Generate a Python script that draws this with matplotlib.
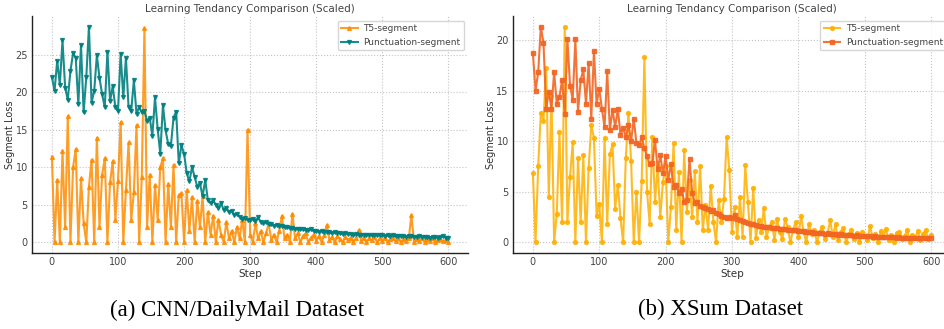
import numpy as np
import matplotlib.pyplot as plt

# steps (every 4th step is kept)
steps = np.arange(0, 601, 4)

# CNN/DailyMail
cnn_t5 = [11.4, 0.0, 8.3, 0.0, 12.2, 2.0, 16.8, 0.0, 10.0, 12.4,
          0.0, 8.5, 2.5, 0.0, 7.4, 11.0, 0.0, 13.9, 2.0, 9.0,
          11.2, 0.0, 8.0, 10.8, 3.0, 8.2, 16.0, 0.0, 7.0, 13.3,
          3.0, 6.7, 15.6, 0.0, 8.7, 28.5, 2.0, 9.0, 0.0, 7.6,
          3.0, 10.0, 11.2, 0.0, 7.8, 2.0, 10.3, 0.0, 6.3, 6.5,
          0.0, 6.9, 1.5, 6.0, 0.0, 5.5, 2.0, 6.1, 0.0, 4.0,
          1.0, 3.5, 0.0, 3.0, 1.0, 0.0, 2.7, 0.5, 1.5, 0.0,
          2.0, 0.5, 3.0, 0.0, 15.0, 1.0, 0.0, 2.5, 0.5, 1.5,
          0.0, 1.2, 2.5, 0.3, 1.0, 0.0, 1.5, 3.5, 0.5, 1.0,
          0.0, 3.8, 0.5, 1.2, 0.0, 0.8, 1.2, 0.0, 0.6, 1.0,
          0.2, 0.8, 0.0, 0.9, 2.3, 0.3, 0.7, 0.0, 0.8, 0.4,
          0.0, 0.7, 0.3, 0.6, 0.0, 0.5, 1.6, 0.2, 0.6, 0.0,
          0.5, 0.3, 0.7, 0.0, 0.5, 0.2, 0.6, 0.0, 0.4, 0.6,
          0.1, 0.5, 0.0, 0.4, 0.2, 0.5, 3.6, 0.0, 0.4, 0.2,
          0.5, 0.0, 0.4, 0.2, 0.5, 0.0, 0.3, 0.4, 0.1, 0.3,
          0.0]
cnn_punct = [22.0, 20.2, 24.2, 21.0, 26.9, 20.6, 19.0, 22.8, 25.2, 24.6,
             18.4, 26.3, 17.3, 22.0, 28.7, 18.6, 20.2, 24.9, 21.9, 19.7,
             18.0, 25.4, 18.8, 20.8, 18.0, 17.5, 25.1, 19.3, 24.6, 18.0,
             17.5, 21.6, 17.1, 18.0, 17.3, 17.5, 16.2, 16.6, 14.2, 19.3,
             15.1, 11.8, 18.3, 14.9, 13.1, 12.8, 16.6, 17.4, 10.5, 12.9,
             11.8, 9.2, 8.1, 10.0, 8.7, 7.4, 7.9, 6.1, 8.3, 5.6,
             5.2, 5.6, 5.0, 4.6, 5.2, 4.3, 4.6, 4.0, 4.2, 3.6,
             3.8, 3.4, 3.1, 3.2, 3.0, 3.0, 3.1, 2.8, 3.3, 2.7,
             2.5, 2.7, 2.4, 2.4, 2.2, 2.3, 2.1, 2.2, 2.0, 2.0,
             1.9, 1.9, 1.8, 1.8, 1.7, 1.7, 1.6, 1.6, 1.7, 1.5,
             1.5, 1.4, 1.5, 1.3, 1.4, 1.3, 1.2, 1.3, 1.2, 1.2,
             1.1, 1.2, 1.1, 1.1, 1.0, 1.1, 1.0, 1.0, 1.0, 0.9,
             1.0, 0.9, 1.0, 0.9, 0.9, 0.9, 0.8, 0.9, 0.8, 0.9,
             0.8, 0.8, 0.8, 0.8, 0.7, 0.8, 0.8, 0.7, 0.7, 0.8,
             0.7, 0.7, 0.7, 0.6, 0.7, 0.7, 0.6, 0.7, 0.8, 0.6,
             0.6]

# XSum
xsum_t5 = [6.8, 0.0, 7.5, 12.8, 12.0, 17.2, 4.5, 14.5, 0.0, 2.8,
           10.9, 2.0, 21.3, 2.0, 6.5, 9.9, 0.0, 8.3, 2.0, 8.6,
           0.0, 7.3, 11.6, 10.3, 2.6, 3.8, 0.0, 10.3, 1.8, 8.7,
           9.7, 3.3, 5.7, 2.4, 0.0, 8.3, 12.8, 8.0, 0.0, 5.0,
           0.0, 6.1, 18.3, 5.0, 1.8, 10.4, 4.0, 7.5, 2.5, 6.0,
           7.5, 0.0, 3.5, 9.8, 1.2, 6.9, 0.0, 9.1, 3.0, 6.2,
           2.5, 7.0, 2.0, 7.5, 1.2, 3.7, 1.2, 5.6, 2.0, 0.0,
           4.2, 2.0, 4.3, 10.4, 7.1, 1.0, 3.5, 0.5, 4.5, 0.5,
           7.6, 4.0, 0.0, 5.4, 0.4, 2.2, 1.0, 3.4, 0.5, 1.5,
           2.0, 0.2, 2.3, 1.0, 0.3, 2.3, 1.5, 0.0, 1.2, 2.0,
           0.5, 2.6, 1.0, 0.0, 1.8, 0.8, 1.2, 0.0, 1.0, 1.5,
           0.3, 0.8, 2.2, 0.5, 1.8, 0.2, 1.0, 1.4, 0.0, 0.8,
           1.2, 0.3, 0.9, 0.0, 1.0, 0.6, 0.2, 1.6, 0.4, 0.8,
           0.0, 1.1, 0.5, 1.3, 0.2, 0.7, 0.0, 0.9, 1.0, 0.3,
           0.6, 1.2, 0.0, 0.7, 0.4, 1.1, 0.2, 0.8, 1.2, 0.3,
           0.7]
xsum_punct = [18.7, 15.0, 16.8, 21.3, 19.7, 13.2, 14.9, 13.2, 16.8, 13.7,
              14.4, 16.0, 12.7, 20.1, 15.5, 14.1, 20.1, 12.9, 16.0, 17.1,
              13.7, 17.7, 12.2, 18.9, 13.7, 15.2, 13.2, 11.4, 16.9, 11.1,
              13.1, 11.4, 13.2, 10.6, 11.3, 10.4, 11.6, 10.0, 12.2, 9.8,
              9.6, 10.4, 9.3, 8.5, 7.7, 7.8, 10.1, 7.2, 8.6, 6.8,
              8.5, 6.2, 7.7, 5.5, 5.7, 4.9, 5.3, 4.0, 4.2, 8.2,
              4.9, 3.9, 4.0, 3.6, 3.5, 3.4, 3.3, 3.1, 3.2, 2.9,
              2.8, 2.6, 2.5, 2.4, 2.5, 2.4, 2.7, 2.3, 2.2, 2.1,
              2.0, 1.9, 1.85, 1.8, 1.7, 1.65, 1.6, 1.55, 1.5, 1.5,
              1.45, 1.4, 1.4, 1.35, 1.3, 1.3, 1.25, 1.2, 1.25, 1.2,
              1.15, 1.1, 1.1, 1.05, 1.0, 1.0, 0.95, 0.95, 0.9, 0.9,
              0.85, 0.9, 0.85, 0.8, 0.8, 0.75, 0.8, 0.75, 0.7, 0.7,
              0.7, 0.65, 0.7, 0.65, 0.6, 0.65, 0.6, 0.6, 0.55, 0.6,
              0.55, 0.55, 0.5, 0.55, 0.5, 0.5, 0.5, 0.45, 0.5, 0.45,
              0.45, 0.45, 0.4, 0.45, 0.4, 0.4, 0.45, 0.4, 0.4, 0.4,
              0.4]

captions = ['(a) CNN/DailyMail Dataset', '(b) XSum Dataset']

fig = plt.figure(figsize=(9.44, 3.29), dpi=100)
ax1 = fig.add_axes([0.034, 0.231, 0.462, 0.72])
ax2 = fig.add_axes([0.5434, 0.231, 0.464, 0.72])


def style(ax):
    ax.set_title('Learning Tendancy Comparison (Scaled)', fontsize=7.5, color='#444444', pad=3)
    ax.set_xlabel('Step', fontsize=7.5, color='#333333', labelpad=1)
    ax.set_ylabel('Segment Loss', fontsize=7, color='#333333', labelpad=0.5)
    ax.set_xlim(-30, 630)
    ax.set_xticks([0, 100, 200, 300, 400, 500, 600])
    ax.tick_params(length=0, labelsize=7, labelcolor='#444444', pad=3)
    ax.grid(True, linestyle=':', color='#c4c4c4', linewidth=0.8)
    ax.set_axisbelow(True)
    for s in ['top', 'right']:
        ax.spines[s].set_visible(False)
    for s in ['left', 'bottom']:
        ax.spines[s].set_color('#222222')
        ax.spines[s].set_linewidth(1.0)
    leg = ax.legend(loc='upper right', fontsize=6.5, frameon=True, borderpad=0.4,
                    handlelength=1.8, handletextpad=0.6, labelspacing=0.5)
    leg.get_frame().set_edgecolor('#cccccc')
    for t in leg.get_texts():
        t.set_color('#444444')


ax1.plot(steps, cnn_t5, color='#FF8C00', marker='^', markersize=2.8, linewidth=1.5,
         alpha=0.85, label='T5-segment')
ax1.plot(steps, cnn_punct, color='#008080', marker='v', markersize=2.8, linewidth=1.5,
         alpha=0.9, label='Punctuation-segment')
ax1.set_yticks([0, 5, 10, 15, 20, 25])
style(ax1)

ax2.plot(steps, xsum_t5, color='#FFB000', marker='o', markersize=2.8, linewidth=1.5,
         alpha=0.85, label='T5-segment')
ax2.plot(steps, xsum_punct, color='#F26522', marker='s', markersize=3.0, linewidth=1.5,
         alpha=0.9, label='Punctuation-segment')
ax2.set_yticks([0, 5, 10, 15, 20])
style(ax2)

fig.text(0.251, 0.058, captions[0], ha='center', va='center', fontsize=16.5,
         family='Liberation Serif')
fig.text(0.763, 0.058, captions[1], ha='center', va='center', fontsize=16.5,
         family='Liberation Serif')

plt.savefig('out.png', dpi=100)
